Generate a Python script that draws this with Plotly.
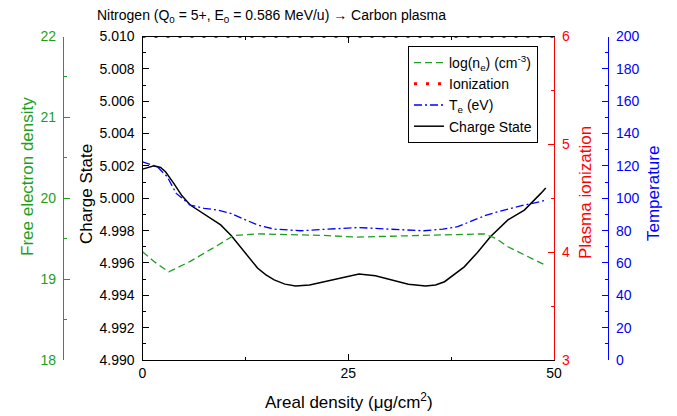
import plotly.graph_objects as go

# ---- data ----
x_cs = [0, 0.7, 1.4, 2.2, 2.8, 3.8, 4.8, 5.8, 7.9, 9.5, 10.8, 11.9, 13.0, 14.0, 15.0, 16.0,
        17.3, 18.6, 20.3, 22.1, 24.2, 26.3, 28.3, 30.2, 32.3, 34.4, 35.6, 36.7, 38.0, 39.1,
        40.7, 42.3, 44.4, 46.4, 48.4, 49.0]
charge_state = [5.0018, 5.0019, 5.0020, 5.0019, 5.00164, 5.00092, 5.00015, 4.99958, 4.99886,
                4.99835, 4.99768, 4.99701, 4.99634, 4.99567, 4.99526, 4.99495, 4.99469, 4.99457,
                4.99464, 4.99484, 4.99510, 4.99532, 4.99521, 4.99495, 4.99469, 4.99457, 4.99464,
                4.99484, 4.99531, 4.99576, 4.99665, 4.99763, 4.99866, 4.99927, 5.00030, 5.00063]

x_te = [0, 1.8, 3.0, 4.1, 5.8, 7.5, 9.1, 10.7, 12.3, 14.0, 16.0, 19.2, 22.5, 26.3, 30.0,
        34.2, 36.5, 38.3, 40.3, 41.8, 43.2, 44.8, 46.4, 48.4, 49.0]
temperature = [122.5, 119.5, 113.3, 103.0, 95.8, 93.8, 92.7, 90.7, 87.1, 83.5, 80.9, 79.9, 80.9,
               81.9, 80.9, 79.9, 80.9, 82.4, 86.6, 89.6, 91.7, 93.8, 95.8, 97.9, 98.9]

x_ne = [0, 1.5, 3.2, 5.8, 8.5, 11.1, 14.0, 18, 22, 26.1, 30, 34, 38, 41.5, 43, 44.4, 46.4, 48.4, 49.0]
log_ne = [19.34, 19.21, 19.09, 19.22, 19.38, 19.54, 19.56, 19.55, 19.54, 19.52, 19.53, 19.54,
          19.55, 19.56, 19.50, 19.40, 19.30, 19.20, 19.17]

x_ion = [0, 50]
ionization = [6, 6]

W, H = 677, 416
FONT = "Liberation Sans, Arial, Helvetica, sans-serif"
GREEN = "#1E9E1E"
RED = "#FF0000"
BLUE = "#0000FF"

def px(x):
    return x / W

def py(y):
    return 1 - y / H

fig = go.Figure()
fig.add_trace(go.Scatter(x=x_ne, y=log_ne, mode="lines", yaxis="y2",
                         name="log(n<sub>e</sub>) (cm<sup>-3</sup>)",
                         line=dict(color=GREEN, dash="7px,4px", width=1.3)))
fig.add_trace(go.Scatter(x=x_ion, y=ionization, mode="lines", yaxis="y3",
                         name="Ionization", cliponaxis=False,
                         line=dict(color=RED, dash="3px,9px", width=3)))
fig.add_trace(go.Scatter(x=x_te, y=temperature, mode="lines", yaxis="y4",
                         name="T<sub>e</sub> (eV)",
                         line=dict(color=BLUE, dash="8px,3px,2px,3px", width=1.3)))
fig.add_trace(go.Scatter(x=x_cs, y=charge_state, mode="lines", yaxis="y",
                         name="Charge State",
                         line=dict(color="black", width=1.5)))

tickfont = dict(family=FONT, size=14)
Y0, Y1 = 360, 36.5

fig.update_layout(
    width=W, height=H,
    margin=dict(l=0, r=0, t=0, b=0, autoexpand=False),
    paper_bgcolor="white", plot_bgcolor="white",
    font=dict(family=FONT, size=14, color="black"),
    showlegend=True,
    legend=dict(x=px(408), y=py(46), xanchor="left", yanchor="top",
                bordercolor="black", borderwidth=1, bgcolor="white",
                font=dict(family=FONT, size=14), tracegroupgap=0,
                itemwidth=30),
    xaxis=dict(domain=[px(142.5), px(554)], range=[0, 50], tickvals=[0, 25, 50],
               ticks="inside", ticklen=6, tickcolor="black", showline=True,
               linecolor="black", linewidth=1.2, mirror="ticks", showgrid=False,
               zeroline=False, tickfont=tickfont, automargin=False,
               minor=dict(ticks="inside", ticklen=3, dtick=12.5, tick0=0, tickcolor="black")),
    yaxis=dict(range=[4.990, 5.010], tickvals=[4.990 + 0.002 * i for i in range(11)],
               tickformat=".3f", ticks="inside", ticklen=6, tickcolor="black",
               showline=True, linecolor="black", linewidth=1.2, showgrid=False,
               zeroline=False, domain=[py(Y0), py(Y1)], tickfont=tickfont, automargin=False,
               ticklabelstandoff=4,
               minor=dict(ticks="inside", ticklen=3, dtick=0.001, tick0=4.99, tickcolor="black")),
    yaxis2=dict(range=[18, 22], dtick=1, overlaying="y", anchor="free", side="left",
                position=px(63), ticks="inside", ticklen=6, tickcolor=GREEN,
                showline=True, linecolor=GREEN, linewidth=1.2, showgrid=False,
                zeroline=False, tickfont=dict(family=FONT, size=14, color=GREEN),
                automargin=False, ticklabelstandoff=4,
                minor=dict(ticks="inside", ticklen=3, dtick=0.5, tickcolor=GREEN)),
    yaxis3=dict(range=[3, 6], dtick=1, overlaying="y", anchor="x", side="right",
                ticks="inside", ticklen=6, tickcolor=RED, showline=True, linecolor=RED,
                linewidth=1.2, showgrid=False, zeroline=False, automargin=False,
                ticklabelstandoff=4,
                tickfont=dict(family=FONT, size=14, color=RED),
                minor=dict(ticks="inside", ticklen=3, dtick=0.5, tickcolor=RED)),
    yaxis4=dict(range=[0, 200], dtick=20, overlaying="y", anchor="free", side="right",
                position=px(608), ticks="inside", ticklen=6, tickcolor=BLUE,
                showline=True, linecolor=BLUE, linewidth=1.2, showgrid=False,
                zeroline=False, tickfont=dict(family=FONT, size=14, color=BLUE),
                automargin=False, ticklabelstandoff=4,
                minor=dict(ticks="inside", ticklen=3, dtick=10, tickcolor=BLUE)),
)

ann = [
    dict(text="Nitrogen (Q<sub>0</sub> = 5+, E<sub>0</sub> = 0.586 MeV/u) → Carbon plasma",
         x=px(271), y=py(16), font=dict(size=14, color="black", family=FONT), textangle=0),
    dict(text="Areal density (μg/cm<sup>2</sup>)", x=px(349), y=py(401),
         font=dict(size=17, color="black", family=FONT), textangle=0),
    dict(text="Free electron density", x=px(28), y=py(177),
         font=dict(size=17, color=GREEN, family=FONT), textangle=-90),
    dict(text="Charge State", x=px(86), y=py(194),
         font=dict(size=17, color="black", family=FONT), textangle=-90),
    dict(text="Plasma ionization", x=px(585), y=py(193),
         font=dict(size=17, color=RED, family=FONT), textangle=-90),
    dict(text="Temperature", x=px(653), y=py(194),
         font=dict(size=17, color=BLUE, family=FONT), textangle=-90),
]
for a in ann:
    fig.add_annotation(xref="paper", yref="paper", showarrow=False,
                       xanchor="center", yanchor="middle", **a)

fig.write_html("out.html", config={"displayModeBar": False},
               post_script="document.body.style.margin='0';document.body.style.overflow='hidden';")
